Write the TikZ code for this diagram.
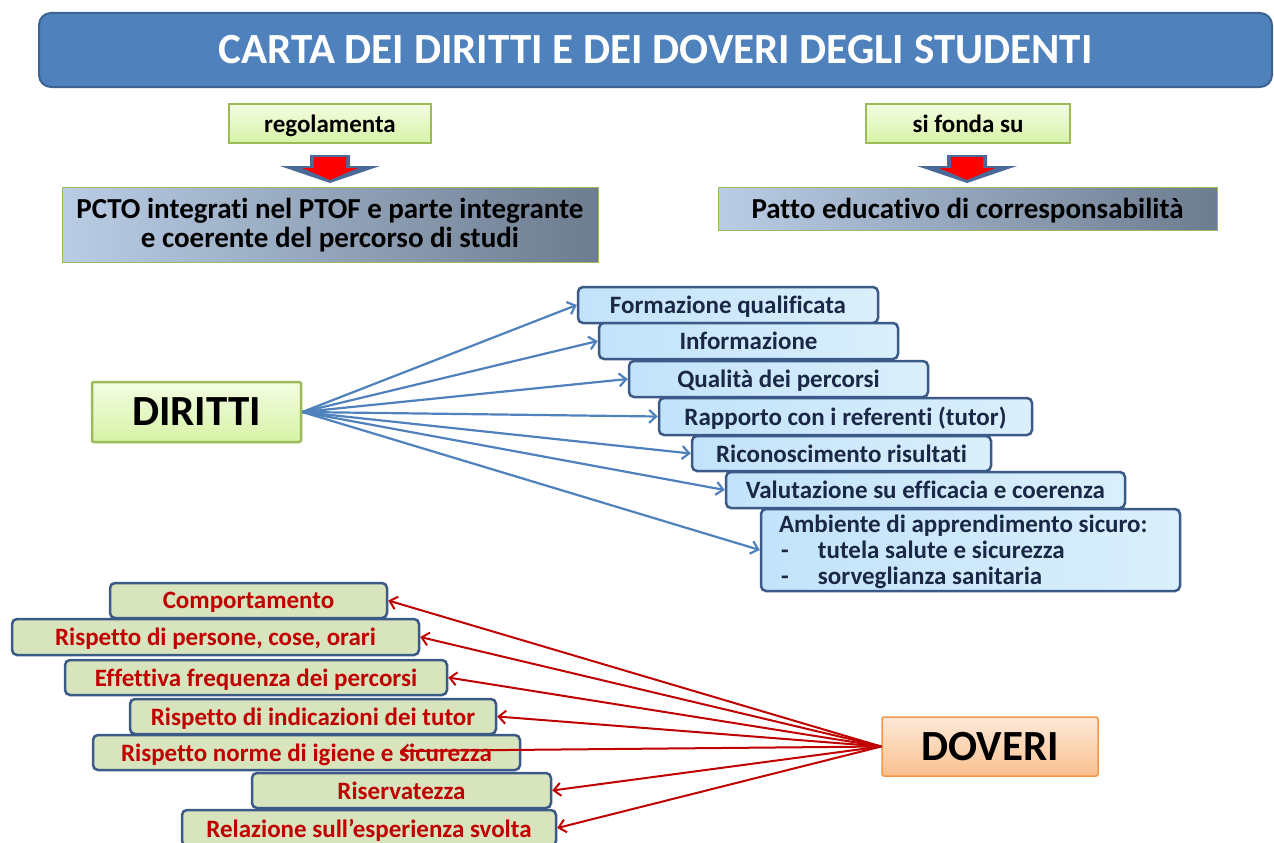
\documentclass[tikz,border=0pt]{standalone}
\usepackage{fontspec}
\setmainfont{Carlito}[Ligatures=NoCommon]
\usetikzlibrary{arrows.meta,shadings}
\definecolor{titlebg}{HTML}{4F81BD}
\definecolor{titlebd}{HTML}{3D6491}
\definecolor{lgtop}{HTML}{F4FDE2}
\definecolor{lgbot}{HTML}{D6F2A6}
\definecolor{lgbd}{HTML}{9BBB59}
\definecolor{gbl}{HTML}{B9CDE5}
\definecolor{gbr}{HTML}{6D7C8F}
\definecolor{bbl}{HTML}{C2E3FA}
\definecolor{bbm}{HTML}{86CEF6}
\definecolor{bbr}{HTML}{DAEFFB}
\definecolor{bbd}{HTML}{3B5A87}
\definecolor{btxt}{HTML}{1A2746}
\definecolor{olv}{HTML}{D7E4BD}
\definecolor{redt}{HTML}{C00000}
\definecolor{ortop}{HTML}{FDE9D9}
\definecolor{orbot}{HTML}{FBC08E}
\definecolor{orbd}{HTML}{F79646}
\definecolor{arrblue}{HTML}{4F81BD}
\definecolor{abd}{HTML}{4A6A9A}
\definecolor{afill}{HTML}{FF0000}
\begin{document}
\begin{tikzpicture}[x=1pt,y=-1pt,
  every node/.style={inner sep=0pt},
  titlebox/.style={draw=titlebd,line width=2pt,fill=titlebg,rounded corners=12pt,
    text=white,font=\bfseries\fontsize{43}{50}\selectfont},
  lgbox/.style={draw=lgbd,line width=1.2pt,top color=lgtop,bottom color=lgbot,text depth=0pt,
    font=\bfseries\fontsize{25}{30}\selectfont},
  gradbox/.style={draw=lgbd,line width=1pt,left color=gbl,right color=gbr,
    font=\bfseries\fontsize{29}{29}\selectfont,align=center},
  bigbox/.style={line width=2.5pt,rounded corners=2pt,font=\bfseries\fontsize{43}{50}\selectfont},
  bluebox/.style={draw=bbd,line width=2.5pt,rounded corners=5pt,
    left color=bbl,middle color=bbm,right color=bbr,text=btxt,
    font=\bfseries\fontsize{25}{26}\selectfont},
  oneline/.style={text depth=0pt},
  olvbox/.style={draw=bbd,line width=2.5pt,rounded corners=5pt,fill=olv,text=redt,text depth=0pt,
    font=\bfseries\fontsize{25}{30}\selectfont},
  barrow/.style={draw=arrblue,line width=2.2pt,-{Straight Barb[length=7pt,width=13pt]}},
  rarrow/.style={draw=redt,line width=2pt,-{Straight Barb[length=7pt,width=13pt]}},
  blockarrow/.pic={
    \fill[abd] (-20,0) -- (20,0) -- (20,11) -- (50,11) -- (0,28) -- (-50,11) -- (-20,11) -- cycle;
    \fill[afill] (-16,2) -- (16,2) -- (16,13) -- (28,13) -- (0,25) -- (-28,13) -- (-16,13) -- cycle;
  }]
\useasboundingbox (0,0) rectangle (1274,843);
\fill[white] (0,0) rectangle (1274,843);

% title
\node[titlebox,minimum width=1233pt,minimum height=74pt] (title) at (655.5,50) {CARTA DEI DIRITTI E DEI DOVERI DEGLI STUDENTI};

% top row
\node[lgbox,minimum width=202pt,minimum height=39pt] (reg) at (330,123.5) {regolamenta};
\node[lgbox,minimum width=204pt,minimum height=39pt] (fonda) at (968,123.5) {si fonda su};
\pic at (330,155) {blockarrow};
\pic at (967,155) {blockarrow};
\node[gradbox,minimum width=536pt,minimum height=75pt] (pcto) at (330,224.5)
  {\rule{0pt}{22pt}PCTO integrati nel PTOF e parte integrante\\e coerente del percorso di studi};
\node[gradbox,oneline,minimum width=499pt,minimum height=43pt] (patto) at (967.5,208.5)
  {Patto educativo di corresponsabilità};

% DIRITTI
\node[bigbox,draw=lgbd,top color=lgtop,bottom color=lgbot,minimum width=209pt,minimum height=60pt] (dir) at (196.5,412) {DIRITTI};

\node[bluebox,oneline,minimum width=300pt,minimum height=36pt] (b1) at (728,305) {Formazione qualificata};
\node[bluebox,oneline,minimum width=299pt,minimum height=36pt] (b2) at (748.5,341) {Informazione};
\node[bluebox,oneline,minimum width=299pt,minimum height=36pt] (b3) at (778.5,379) {Qualità dei percorsi};
\node[bluebox,oneline,minimum width=373pt,minimum height=37pt] (b4) at (845.5,416.5) {Rapporto con i referenti (tutor)};
\node[bluebox,oneline,minimum width=299pt,minimum height=35pt] (b5) at (841.5,453.5) {Riconoscimento risultati};
\node[bluebox,oneline,minimum width=399pt,minimum height=36pt] (b6) at (925.5,490) {Valutazione su efficacia e coerenza};
\node[bluebox,minimum width=419pt,minimum height=82pt,inner xsep=18pt,text width=383pt,align=flush left] (b7) at (970.5,550)
  {\rule{0pt}{22pt}Ambiente di apprendimento sicuro:\\
   \hspace*{2pt}\makebox[37pt][l]{-}tutela salute e sicurezza\\
   \hspace*{2pt}\makebox[37pt][l]{-}sorveglianza sanitaria};

\foreach \b in {b1,b2,b3,b4,b5,b6,b7}{\draw[barrow] (dir.east) -- (\b.west);}

% DOVERI
\node[olvbox,minimum width=277pt,minimum height=35pt] (g1) at (248.5,600.5) {Comportamento};
\node[olvbox,minimum width=407pt,minimum height=36pt] (g2) at (215.5,637) {Rispetto di persone, cose, orari};
\node[olvbox,minimum width=382pt,minimum height=35pt] (g3) at (256,677.5) {Effettiva frequenza dei percorsi};
\node[olvbox,minimum width=366pt,minimum height=35pt] (g4) at (313,716.5) {Rispetto di indicazioni dei tutor};
\node[olvbox,minimum width=427pt,minimum height=35pt] (g5) at (306.5,752.5) {Rispetto norme di igiene e sicurezza};
\node[olvbox,minimum width=299pt,minimum height=35pt] (g6) at (401.5,790.5) {Riservatezza};
\node[olvbox,minimum width=374pt,minimum height=36pt] (g7) at (369,828) {Relazione sull’esperienza svolta};

\node[bigbox,line width=1.5pt,draw=orbd,top color=ortop,bottom color=orbot,minimum width=216pt,minimum height=59pt] (dov) at (990,746.5) {DOVERI};

\coordinate (g5tip) at (400,751);
\foreach \g in {g1,g2,g3,g4,g6,g7}{\draw[rarrow] (dov.west) -- (\g.east);}
\draw[rarrow] (dov.west) -- (g5tip);
\end{tikzpicture}
\end{document}
